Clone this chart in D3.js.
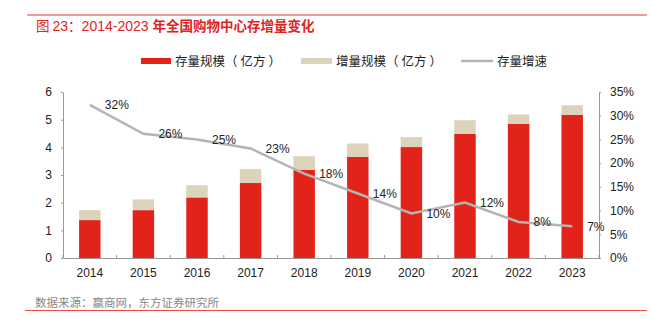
<!DOCTYPE html>
<html>
<head>
<meta charset="utf-8">
<script src="https://cdn.jsdelivr.net/npm/d3@7"></script>
<style>
  body { margin: 0; background: #fff; }
  svg { display: block; font-family: "Liberation Sans", Arial, "Noto Sans CJK SC", sans-serif; }
</style>
</head>
<body>
<svg id="chart"></svg>
<script>
//Data
const years = ["2014", "2015", "2016", "2017", "2018", "2019", "2020", "2021", "2022", "2023"];
const stock = [1.37, 1.73, 2.19, 2.71, 3.19, 3.66, 4.01, 4.49, 4.85, 5.17];
const increment = [0.36, 0.39, 0.44, 0.51, 0.49, 0.48, 0.36, 0.49, 0.34, 0.35];
const growth = [32.3, 26.2, 25.0, 23.1, 17.8, 13.6, 9.4, 11.7, 7.6, 6.7];
const growthLabels = ["32%", "26%", "25%", "23%", "18%", "14%", "10%", "12%", "8%", "7%"];
const leftTicks = [0, 1, 2, 3, 4, 5, 6];
const rightTicks = [0, 5, 10, 15, 20, 25, 30, 35];

const w = 652;
const h = 323;
const plotLeft = 63, plotRight = 599, plotTop = 92, plotBottom = 258;
const cjk = '"Noto Sans CJK SC", sans-serif';
const latin = '"Liberation Sans", "Noto Sans CJK SC", sans-serif';

const svg = d3.select("#chart").attr("width", w).attr("height", h);

//Scales
const x = d3.scaleBand().domain(years).range([plotLeft, plotRight]).paddingInner(0.6).paddingOuter(0.3);
const xOuter = d3.scaleBand().domain(years).range([plotLeft, plotRight]);
const y = d3.scaleLinear().domain([0, 6]).range([plotBottom, plotTop]);
const y2 = d3.scaleLinear().domain([0, 35]).range([plotBottom, plotTop]);

//Title and frame lines
svg.append("line").attr("x1", 27).attr("x2", 647).attr("y1", 15).attr("y2", 15)
   .attr("stroke", "#ee7a74").attr("stroke-width", 1.5);
const title = svg.append("text").attr("x", 36).attr("y", 31)
   .attr("fill", "#e0231d").attr("font-size", 14).attr("font-family", latin);
title.append("tspan").attr("font-family", cjk).attr("font-size", 13.5).text("图 ");
title.append("tspan").text("23");
title.append("tspan").attr("font-family", cjk).attr("font-size", 13.5).text("：");
title.append("tspan").text("2014-2023 ");
title.append("tspan").attr("font-family", cjk).attr("font-size", 13.5).attr("font-weight", "bold").text("年全国购物中心存增量变化");

//Legend
const legend = svg.append("g").style("font-family", cjk).attr("font-size", 12.5).attr("fill", "#222");
function legendLabel(xPos, name) {
  const t = legend.append("text").attr("x", xPos).attr("y", 65.5);
  t.append("tspan").text(name + "（");
  t.append("tspan").attr("dx", 3).text("亿方");
  t.append("tspan").attr("dx", 3).text("）");
}
legend.append("rect").attr("x", 141).attr("y", 58).attr("width", 30).attr("height", 6).attr("fill", "#e2231a");
legendLabel(175, "存量规模");
legend.append("rect").attr("x", 301).attr("y", 58).attr("width", 31).attr("height", 6).attr("fill", "#ddd3bb");
legendLabel(336, "增量规模");
legend.append("line").attr("x1", 461).attr("x2", 493).attr("y1", 61).attr("y2", 61)
      .attr("stroke", "#b4b4b4").attr("stroke-width", 2.5);
legend.append("text").attr("x", 497).attr("y", 65.5).text("存量增速");

//Bars
svg.selectAll(".stock").data(years).enter().append("rect")
   .attr("x", d => x(d)).attr("width", x.bandwidth())
   .attr("y", (d, i) => y(stock[i]))
   .attr("height", (d, i) => y(0) - y(stock[i]))
   .attr("fill", "#e2231a");
svg.selectAll(".inc").data(years).enter().append("rect")
   .attr("x", d => x(d)).attr("width", x.bandwidth())
   .attr("y", (d, i) => y(stock[i] + increment[i]))
   .attr("height", (d, i) => y(stock[i]) - y(stock[i] + increment[i]))
   .attr("fill", "#ddd3bb");

//Axes
const axisColor = "#999";
const xAxis = svg.append("g").attr("transform", "translate(0," + plotBottom + ")")
   .call(d3.axisBottom(xOuter).tickSize(0).tickPadding(10));
xAxis.selectAll("text").attr("font-size", 12).attr("fill", "#222").style("font-family", latin);
xAxis.select(".domain").attr("stroke", axisColor);
xAxis.selectAll(".sep").data(d3.range(years.length + 1)).enter().append("line")
   .attr("x1", i => plotLeft + i * xOuter.step()).attr("x2", i => plotLeft + i * xOuter.step())
   .attr("y1", 0).attr("y2", -3).attr("stroke", axisColor);

const yAxis = svg.append("g").attr("transform", "translate(" + plotLeft + ",0)")
   .call(d3.axisLeft(y).tickValues(leftTicks).tickFormat(d3.format("d")).tickSize(2).tickPadding(9).tickSizeOuter(0));
yAxis.selectAll("text").attr("font-size", 12).attr("fill", "#222").style("font-family", latin);
yAxis.selectAll("line").attr("stroke", axisColor);
yAxis.select(".domain").attr("stroke", axisColor);

const y2Axis = svg.append("g").attr("transform", "translate(" + plotRight + ",0)")
   .call(d3.axisRight(y2).tickValues(rightTicks).tickFormat(d => d + "%").tickSize(2).tickPadding(9).tickSizeOuter(0));
y2Axis.selectAll("text").attr("font-size", 12).attr("fill", "#222").style("font-family", latin);
y2Axis.selectAll("line").attr("stroke", axisColor);
y2Axis.select(".domain").attr("stroke", axisColor);

//Growth line
const cx = d => xOuter(d) + xOuter.bandwidth() / 2;
const line = d3.line().x(d => cx(d[0])).y(d => y2(d[1]));
svg.append("path").datum(years.map((d, i) => [d, growth[i]]))
   .attr("d", line).attr("fill", "none")
   .attr("stroke", "#b4b4b4").attr("stroke-width", 2.5);

svg.selectAll(".lbl").data(years).enter().append("text")
   .attr("x", d => cx(d) + 15)
   .attr("y", (d, i) => y2(growth[i]) + 4.5)
   .attr("font-size", 12).attr("fill", "#222").style("font-family", latin)
   .text((d, i) => growthLabels[i]);

//Source
svg.append("text").attr("x", 35).attr("y", 307)
   .attr("font-size", 11.5).attr("fill", "#888").style("font-family", cjk)
   .text("数据来源：赢商网，东方证券研究所");
svg.append("line").attr("x1", 25).attr("x2", 647).attr("y1", 310.5).attr("y2", 310.5)
   .attr("stroke", "#f04a44").attr("stroke-width", 1);
</script>
</body>
</html>
